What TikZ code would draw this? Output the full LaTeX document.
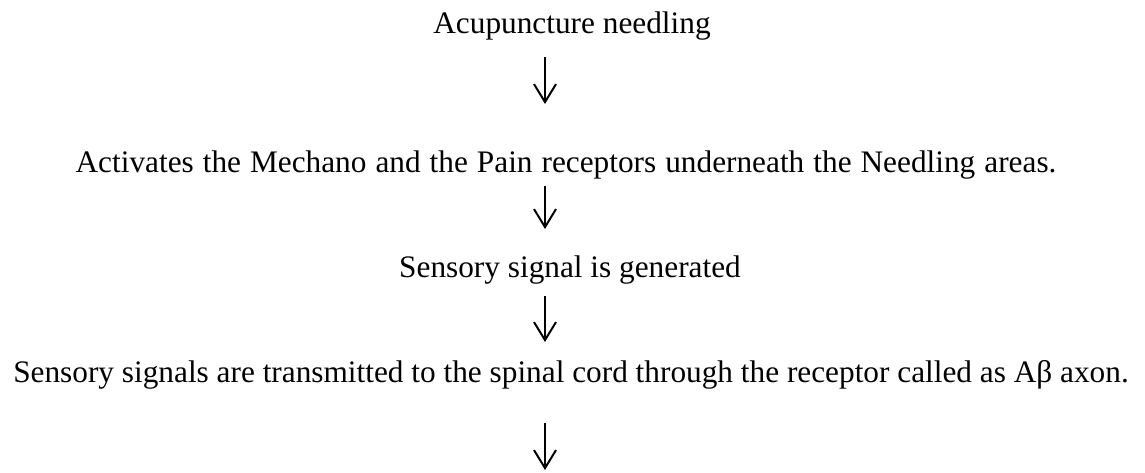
\documentclass[tikz,border=0pt]{standalone}
\usepackage{fontspec}
\setmainfont{Liberation Serif}
\usetikzlibrary{arrows.meta}
\begin{document}
\begin{tikzpicture}[x=1pt,y=-1pt,
  lbl/.style={anchor=base,inner sep=0pt,font=\fontsize{31.3}{37}\selectfont},
  flow/.style={line width=2pt,-{Straight Barb[length=18pt,width=22pt,line width=2pt]}}]
\useasboundingbox (0,0) rectangle (1145,472);
\node[lbl] (n1) at (572,33) {Acupuncture needling};
\node[lbl] (n2) at (566,172) {\spaceskip=9pt plus 1pt Activates the Mechano and the Pain receptors underneath the Needling areas.};
\node[lbl] (n3) at (570,277) {Sensory signal is generated};
\node[lbl] (n4) at (571,382) {Sensory signals are transmitted to the spinal cord through the receptor called as Aβ axon.};
\coordinate (a1s) at (545,57);  \coordinate (a1e) at (545,104);
\coordinate (a2s) at (545,186); \coordinate (a2e) at (545,229);
\coordinate (a3s) at (545,296); \coordinate (a3e) at (545,342);
\coordinate (a4s) at (545,423); \coordinate (a4e) at (545,470);
\draw[flow] (a1s) -- (a1e);
\draw[flow] (a2s) -- (a2e);
\draw[flow] (a3s) -- (a3e);
\draw[flow] (a4s) -- (a4e);
\end{tikzpicture}
\end{document}
